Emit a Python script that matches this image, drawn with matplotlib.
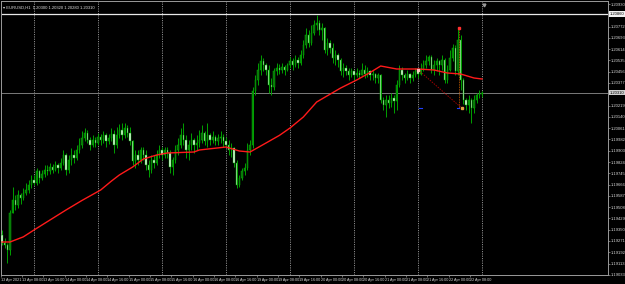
import numpy as np
import matplotlib
matplotlib.use("Agg")
import matplotlib.pyplot as plt
import matplotlib.transforms as mtransforms

# ---------------- data ----------------
first_open = 1.1931
closes = [1.1926,1.1924,1.1921,1.1947,1.1956,1.1952,1.1959,1.1957,1.1961,1.1963,
          1.1966,1.1970,1.1968,1.1976,1.1971,1.1974,1.1977,1.1976,1.1979,1.1977,
          1.1980,1.1978,1.1982,1.1987,1.1977,1.1984,1.1987,1.1985,1.1991,1.1994,
          1.1999,1.2003,1.1998,1.1994,1.1998,1.1996,1.2000,1.1998,1.2001,1.1997,
          1.1999,1.2002,1.1994,1.2001,1.2005,1.2001,1.2006,1.2003,1.1997,1.1983,
          1.1987,1.1984,1.1991,1.1987,1.1980,1.1977,1.1984,1.1982,1.1987,1.1991,
          1.1987,1.1991,1.1989,1.1979,1.1984,1.1991,1.1994,1.2001,1.1998,1.1991,
          1.1994,1.1998,1.1994,1.1996,1.1998,1.2003,1.1997,1.2001,1.1998,1.2000,
          1.1997,1.1999,1.2000,1.1997,1.1994,1.1991,1.1992,1.1982,1.1966,1.1971,
          1.1976,1.1978,1.1991,1.1994,1.2032,1.2040,1.2047,1.2053,1.2050,1.2047,
          1.2036,1.2035,1.2046,1.2048,1.2047,1.2049,1.2047,1.2050,1.2053,1.2050,
          1.2054,1.2052,1.2057,1.2064,1.2071,1.2066,1.2073,1.2078,1.2080,1.2075,
          1.2076,1.2061,1.2066,1.2062,1.2055,1.2057,1.2054,1.2046,1.2048,1.2046,
          1.2043,1.2046,1.2043,1.2045,1.2043,1.2047,1.2044,1.2046,1.2043,1.2044,
          1.2041,1.2043,1.2026,1.2022,1.2026,1.2024,1.2027,1.2025,1.2036,1.2047,
          1.2043,1.2041,1.2044,1.2041,1.2043,1.2046,1.2044,1.2047,1.2050,1.2053,
          1.2056,1.2047,1.2050,1.2053,1.2050,1.2054,1.2040,1.2047,1.2055,1.2062,
          1.2046,1.2068,1.2040,1.2026,1.2022,1.2026,1.2020,1.2026,1.2029,1.2030,
          1.2031]
highs = [1.1935,1.1929,1.1926,1.1949,1.1965,1.1959,1.1963,1.1961,1.1964,1.1968,
         1.1970,1.1973,1.1973,1.1978,1.1977,1.1977,1.1980,1.1980,1.1982,1.1981,
         1.1983,1.1982,1.1985,1.1991,1.1989,1.1987,1.1992,1.1991,1.1994,1.1999,
         1.2004,1.2006,1.2005,1.2000,1.2001,1.2000,1.2003,1.2002,1.2004,1.2003,
         1.2002,1.2006,1.2005,1.2007,1.2009,1.2010,1.2010,1.2008,1.2007,1.1998,
         1.1991,1.1991,1.1993,1.1993,1.1991,1.1984,1.1987,1.1987,1.1991,1.1994,
         1.1993,1.1993,1.1993,1.1991,1.1986,1.1994,1.1999,1.2006,1.2010,1.2001,
         1.1998,1.2003,1.1999,1.2001,1.2005,1.2008,1.2004,1.2010,1.2003,1.2004,
         1.2001,1.2002,1.2004,1.2002,1.2000,1.1998,1.1996,1.1993,1.1984,1.1973,
         1.1978,1.1982,1.1996,1.1998,1.2035,1.2043,1.2052,1.2057,1.2055,1.2052,
         1.2050,1.2041,1.2048,1.2052,1.2051,1.2052,1.2050,1.2052,1.2056,1.2055,
         1.2057,1.2056,1.2061,1.2068,1.2076,1.2075,1.2078,1.2082,1.2085,1.2082,
         1.2080,1.2077,1.2069,1.2068,1.2066,1.2061,1.2059,1.2055,1.2052,1.2050,
         1.2048,1.2048,1.2047,1.2048,1.2047,1.2052,1.2050,1.2049,1.2047,1.2047,
         1.2045,1.2045,1.2044,1.2028,1.2029,1.2029,1.2031,1.2029,1.2040,1.2050,
         1.2049,1.2045,1.2047,1.2045,1.2046,1.2048,1.2047,1.2052,1.2054,1.2057,
         1.2057,1.2057,1.2054,1.2055,1.2054,1.2057,1.2055,1.2050,1.2061,1.2065,
         1.2064,1.2076,1.2071,1.2041,1.2027,1.2029,1.2027,1.2029,1.2031,1.2033,
         1.2032]
lows = [1.1924,1.1922,1.1912,1.1917,1.1947,1.1949,1.1950,1.1953,1.1956,1.1959,
        1.1961,1.1964,1.1966,1.1966,1.1968,1.1970,1.1972,1.1973,1.1974,1.1975,
        1.1976,1.1975,1.1977,1.1980,1.1973,1.1975,1.1980,1.1982,1.1984,1.1989,
        1.1992,1.1997,1.1996,1.1991,1.1993,1.1993,1.1994,1.1994,1.1996,1.1993,
        1.1995,1.1997,1.1989,1.1992,1.1999,1.1998,1.1999,1.2000,1.1994,1.1980,
        1.1978,1.1980,1.1982,1.1984,1.1977,1.1972,1.1975,1.1978,1.1980,1.1985,
        1.1984,1.1985,1.1985,1.1975,1.1973,1.1982,1.1987,1.1992,1.1994,1.1985,
        1.1984,1.1991,1.1989,1.1991,1.1993,1.1996,1.1994,1.1993,1.1994,1.1996,
        1.1994,1.1994,1.1996,1.1993,1.1993,1.1987,1.1986,1.1979,1.1964,1.1965,
        1.1970,1.1973,1.1977,1.1987,1.1992,1.2029,1.2036,1.2043,1.2046,1.2043,
        1.2031,1.2029,1.2033,1.2043,1.2044,1.2045,1.2043,1.2046,1.2048,1.2047,
        1.2049,1.2048,1.2050,1.2055,1.2062,1.2063,1.2064,1.2071,1.2075,1.2071,
        1.2068,1.2059,1.2057,1.2059,1.2052,1.2050,1.2049,1.2043,1.2042,1.2043,
        1.2040,1.2042,1.2040,1.2042,1.2041,1.2043,1.2041,1.2042,1.2040,1.2040,
        1.2038,1.2038,1.2024,1.2019,1.2014,1.2020,1.2021,1.2017,1.2019,1.2035,
        1.2040,1.2038,1.2040,1.2038,1.2039,1.2042,1.2041,1.2043,1.2046,1.2048,
        1.2050,1.2045,1.2043,1.2046,1.2043,1.2047,1.2038,1.2038,1.2046,1.2053,
        1.2043,1.2043,1.2033,1.2023,1.2019,1.2017,1.2010,1.2017,1.2024,1.2027,
        1.2028]

# moving average (read at selected bars)
ma_bars = [0, 3, 8, 12, 18, 24, 30, 37, 41, 44, 49, 53, 58, 62, 72, 74, 84, 89,
           93, 99, 104, 108, 113, 118, 127, 133, 138, 142, 148, 156, 162, 167, 172,
           177, 180]
ma_vals = [1.19264, 1.19264, 1.19300, 1.19348, 1.19418, 1.19488, 1.19555, 1.19628,
           1.19690, 1.19733, 1.19789, 1.19845, 1.19873, 1.19887, 1.19894, 1.19908,
           1.19929, 1.19901, 1.19894, 1.19957, 1.20010, 1.20062, 1.20139, 1.20244,
           1.20342, 1.20398, 1.20450, 1.20496, 1.20475, 1.20475, 1.20468, 1.20447,
           1.20440, 1.20412, 1.20405]

# time axis labels (every 8 bars)
time_labels = ["13 Apr 2021", "13 Apr 08:00", "13 Apr 16:00", "14 Apr 00:00", "14 Apr 08:00",
               "14 Apr 16:00", "15 Apr 00:00", "15 Apr 08:00", "15 Apr 16:00", "16 Apr 00:00",
               "16 Apr 08:00", "16 Apr 16:00", "19 Apr 00:00", "19 Apr 08:00", "19 Apr 16:00",
               "20 Apr 00:00", "20 Apr 08:00", "20 Apr 16:00", "21 Apr 00:00", "21 Apr 08:00",
               "21 Apr 16:00", "22 Apr 00:00", "22 Apr 08:00"]
label_every = 8
grid_bars = [12, 36, 60, 84, 108, 132, 156, 180]

# price axis labels
price_ticks = [1.20930, 1.20772, 1.20693, 1.20614, 1.20535, 1.20456, 1.20377,
               1.20219, 1.20140, 1.20061, 1.19982, 1.19903, 1.19824, 1.19745, 1.19666,
               1.19587, 1.19508, 1.19429, 1.19350, 1.19271, 1.19192, 1.19113, 1.19033]

hline_level = 1.2086
bid_level = 1.2031
title = "\u25be EURUSD,H1  1.20300 1.20320 1.20280 1.20310"

# objects near the end
trend_bars = [156, 172.5]
trend_vals = [1.2047, 1.2020]
vline_bar = 171.4
vline_vals = [1.2075, 1.2020]

# ---------------- plot ----------------
NARROW = ["Liberation Sans Narrow", "Liberation Sans", "DejaVu Sans"]
W, H = 625, 284
fig = plt.figure(figsize=(W / 100, H / 100), dpi=100, facecolor="black")
ax = fig.add_axes([0.5 / W, 1 - 275 / H, 607.5 / W, 274 / H])
ax.set_facecolor("black")

n = len(closes)
idx = np.arange(n)
c = np.array(closes)
o = np.concatenate([[first_open], c[:-1]])
h = np.array(highs)
l = np.array(lows)

ax.set_xlim(-0.56, 227.25)
ax.set_ylim(1.19033, 1.20951)

for g in grid_bars:
    ax.axvline(g, color="#8a8a8a", lw=0.7, ls=(0, (1.2, 1.2)), zorder=1)

ax.axhline(hline_level, color="#e8e8e8", lw=0.9, zorder=2)
ax.axhline(bid_level, color="#7a7a7a", lw=0.7, zorder=2)

wick = "#00a000"
ax.vlines(idx, l, h, color=wick, lw=0.7, zorder=3)
up = c >= o
bottoms = np.minimum(o, c)
heights = np.maximum(np.abs(c - o), 0.00003)
ax.bar(idx[up], heights[up], bottom=bottoms[up], width=0.62,
       color="#0a6e0a", edgecolor="#00b000", lw=0.35, zorder=4)
ax.bar(idx[~up], heights[~up], bottom=bottoms[~up], width=0.62,
       color="#e8ffe8", edgecolor="#00a000", lw=0.35, zorder=4)

ax.plot(ma_bars, ma_vals, color="#ff1a1a", lw=1.0, zorder=5)

ax.plot(trend_bars, trend_vals, color="#a00000", lw=0.7, ls=(0, (1.5, 1.2)), zorder=6)
ax.plot([vline_bar, vline_bar], vline_vals, color="#d06000", lw=0.6, ls=(0, (1, 1)), zorder=6)
ax.plot([vline_bar], [1.2076], marker="s", ms=1.8, color="#ff3030", zorder=7)
ax.plot([trend_bars[0]], [trend_vals[0]], marker="s", ms=1.5, color="#ffc0c0", zorder=7)
ax.plot([trend_bars[1]], [trend_vals[1]], marker="s", ms=1.5, color="#e0a040", zorder=7)
ax.plot([156.5, 157.5], [1.2020, 1.2020], color="#2040ff", lw=0.8, zorder=6)
ax.plot([170.5, 171.5], [1.2020, 1.2020], color="#2040ff", lw=0.8, zorder=6)
ax.plot([180.7], [1.20925], marker="v", ms=2, color="#9a9a9a", zorder=7, clip_on=False)

for s in ax.spines.values():
    s.set_color("#9a9a9a")
    s.set_linewidth(0.7)

ax.yaxis.tick_right()
ax.set_yticks(price_ticks)
ax.set_yticklabels([f"{v:.5f}" for v in price_ticks], family=NARROW)
ax.tick_params(axis="y", colors="#9a9a9a", labelcolor="#d8d8d8", labelsize=3.0,
               length=1.5, width=0.5, pad=0.8)

xt = [k * label_every - 0.5 for k in range(len(time_labels))]
ax.set_xticks(xt)
ax.set_xticklabels(time_labels, family=NARROW)
ax.tick_params(axis="x", colors="#9a9a9a", labelcolor="#d8d8d8", labelsize=2.7,
               length=1.5, width=0.5, pad=0.8)
for t in ax.get_xticklabels():
    t.set_ha("left")

trans = mtransforms.blended_transform_factory(ax.transAxes, ax.transData)
for lev, fc in [(hline_level, "#f2f2f2"), (bid_level, "#d0d0d0")]:
    ax.text(1.003, lev, f"{lev:.5f}", transform=trans, fontsize=3.0, color="black",
            va="center", ha="left", clip_on=False, zorder=10, family=NARROW,
            bbox=dict(boxstyle="square,pad=0.15", fc=fc, ec="none"))

ax.text(0.004, 0.985, title, transform=ax.transAxes, fontsize=3.0, color="#e0e0e0",
        va="top", ha="left", zorder=10, family=NARROW)

fig.savefig("out.png", dpi=100, facecolor="black")
